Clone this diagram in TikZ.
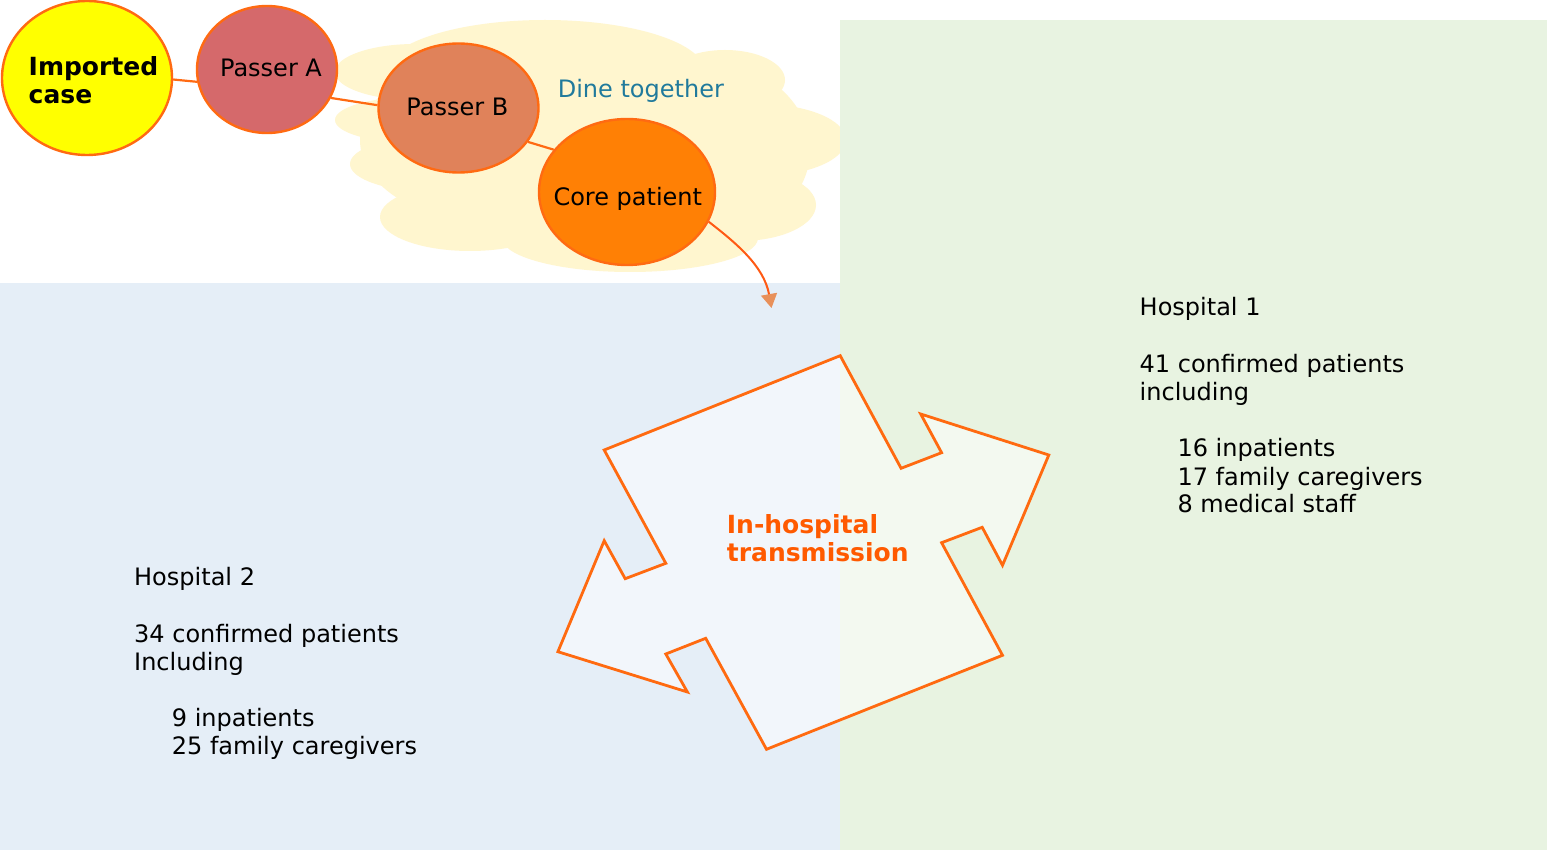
\documentclass[tikz,border=0pt]{standalone}
\usepackage{fontspec}
\setmainfont{DejaVu Sans}
\usetikzlibrary{arrows.meta,shapes.geometric}
\definecolor{bluebg}{HTML}{E5EEF7}
\definecolor{greenbg}{HTML}{E8F3E1}
\definecolor{cloudc}{HTML}{FFF6CF}
\definecolor{edgec}{HTML}{FF6A12}
\definecolor{impc}{HTML}{FFFF00}
\definecolor{pac}{HTML}{D5696B}
\definecolor{pbc}{HTML}{E0825A}
\definecolor{corec}{HTML}{FF8005}
\definecolor{dinec}{HTML}{207A9C}
\definecolor{shapec}{HTML}{FF6A10}
\definecolor{labc}{HTML}{FF5A00}
\definecolor{tipc}{HTML}{E8905A}
\definecolor{curvec}{HTML}{FF5A14}
\begin{document}
\begin{tikzpicture}[x=1pt,y=-1pt,
  bub/.style={ellipse, draw=edgec, line width=2.4pt, inner sep=0pt},
  txt/.style={inner sep=0pt, font=\fontsize{24}{28}\selectfont},
  btxt/.style={inner sep=0pt, font=\fontsize{25}{29}\selectfont\bfseries},
  link/.style={draw=edgec, line width=2.2pt},
  cloudpart/.style={fill=cloudc},
]
\useasboundingbox (0,0) rectangle (1550,850);
\fill[white] (0,0) rectangle (1550,850);

% cloud
\fill[cloudpart] (545,72) ellipse [x radius=160pt, y radius=52pt];
\fill[cloudpart] (415,72) ellipse [x radius=80pt, y radius=28pt];
\fill[cloudpart] (415,120) ellipse [x radius=80pt, y radius=23pt];
\fill[cloudpart] (435,164) ellipse [x radius=85pt, y radius=28pt];
\fill[cloudpart] (470,217) ellipse [x radius=90pt, y radius=34pt];
\fill[cloudpart] (630,238) ellipse [x radius=128pt, y radius=34pt];
\fill[cloudpart] (725,80) ellipse [x radius=60pt, y radius=30pt];
\fill[cloudpart] (760,140) ellipse [x radius=86pt, y radius=36pt];
\fill[cloudpart] (740,205) ellipse [x radius=76pt, y radius=36pt];
\fill[cloudpart] (590,150) ellipse [x radius=200pt, y radius=95pt];
\fill[cloudpart] (480,140) ellipse [x radius=120pt, y radius=80pt];
\fill[cloudpart] (700,150) ellipse [x radius=110pt, y radius=90pt];

% backgrounds
\fill[greenbg] (840,20) rectangle (1547,850);
\fill[bluebg] (0,283) rectangle (840,850);

% bubbles
\node[bub, fill=impc, minimum width=170pt, minimum height=154pt] (imp) at (87,78) {};
\node[bub, fill=pac, minimum width=140pt, minimum height=127pt] (pa) at (267,69.5) {};
\node[bub, fill=pbc, minimum width=160pt, minimum height=129pt] (pb) at (458.5,108) {};
\node[bub, fill=corec, minimum width=176pt, minimum height=146pt] (core) at (627,192) {};

\draw[link] (imp.-1) -- (pa.190.5);
\draw[link] (pa.-24.7) -- (pb.178.5);
\draw[link] (pb.-26.9) -- (core.150);

\node[btxt, anchor=base west] (imp1) at (28.5,76) {Imported};
\node[btxt, anchor=base west] (imp2) at (28.5,104) {case};
\node[txt, anchor=base] (patxt) at (271,77) {Passer A};
\node[txt, anchor=base] (pbtxt) at (457.4,116) {Passer B};
\node[txt, anchor=base] (coretxt) at (627.8,206) {Core patient};
\node[txt, anchor=base west, text=dinec] (dine) at (557.6,97.7) {Dine together};

% curved arrow
\coordinate (tipend) at (771.5,308);
\draw[curvec, line width=2pt, -{Triangle[length=14pt,width=16pt,color=tipc]}]
  (core.-20) .. controls (736,243) and (764,266) .. (tipend);

% transmission shape
\draw[shapec, line width=2.8pt, fill=white, fill opacity=0.5, line join=miter]
  (840.2,355.7) -- (604.2,450) -- (665.8,563.3) -- (625.2,578.7) -- (604.2,540.7)
  -- (557.9,651.7) -- (687.4,692) -- (665.8,654) -- (705.7,638.3) -- (766.5,749.3)
  -- (1002.5,655.3) -- (941.6,542.7) -- (982.2,527.3) -- (1002.5,565.3)
  -- (1048.8,455) -- (920.7,414) -- (941.6,452.7) -- (901.1,468.3) -- cycle;
\node[btxt, anchor=base west, text=labc] (tr1) at (726.7,533.3) {In-hospital};
\node[btxt, anchor=base west, text=labc] (tr2) at (726.7,561.7) {transmission};

% hospital 1
\node[txt, anchor=base west] (h1a) at (1139.5,315.7) {Hospital 1};
\node[txt, anchor=base west] (h1b) at (1139.5,372.3) {41 confirmed patients};
\node[txt, anchor=base west] (h1c) at (1139.5,400) {including};
\node[txt, anchor=base west] (h1d) at (1177.3,456.7) {16 inpatients};
\node[txt, anchor=base west] (h1e) at (1177.3,485) {17 family caregivers};
\node[txt, anchor=base west] (h1f) at (1177.3,512.7) {8 medical staff};

% hospital 2
\node[txt, anchor=base west] (h2a) at (134,585) {Hospital 2};
\node[txt, anchor=base west] (h2b) at (134,642.3) {34 confirmed patients};
\node[txt, anchor=base west] (h2c) at (134,670) {Including};
\node[txt, anchor=base west] (h2d) at (171.7,726.7) {9 inpatients};
\node[txt, anchor=base west] (h2e) at (171.7,754.3) {25 family caregivers};
\end{tikzpicture}
\end{document}
